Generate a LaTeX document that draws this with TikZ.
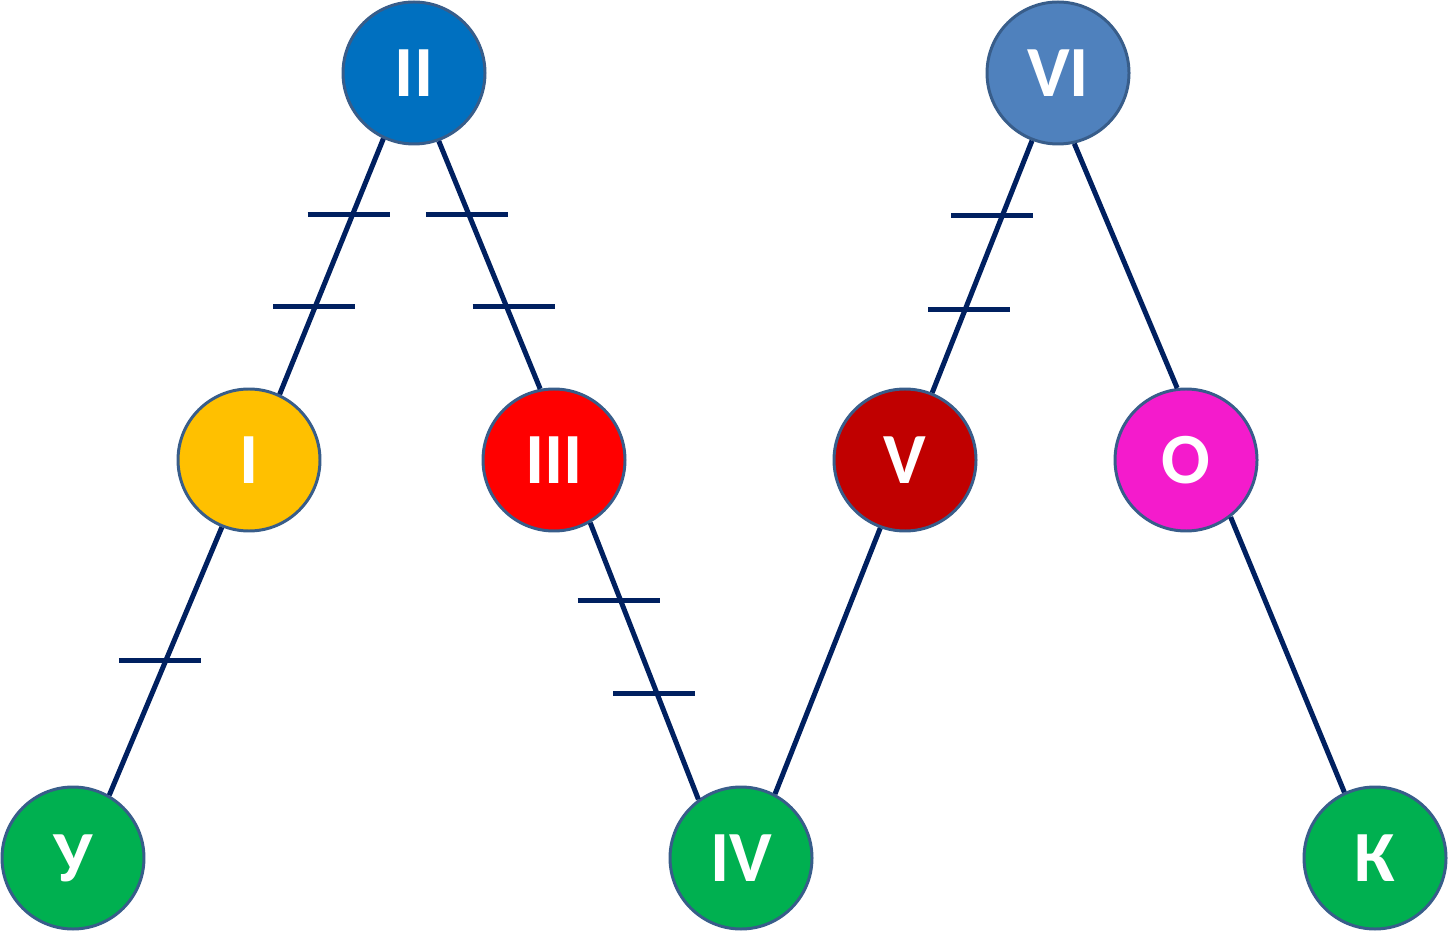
\documentclass[tikz,border=0pt]{standalone}
\usepackage{fontspec}
\setmainfont{Carlito}
\usepackage{xcolor}
\usetikzlibrary{calc}

\definecolor{garis}{HTML}{002060}
\definecolor{tepi}{HTML}{385D8A}
\definecolor{biru}{HTML}{0070C0}
\definecolor{birumuda}{HTML}{4F81BD}
\definecolor{kuning}{HTML}{FFC000}
\definecolor{merah}{HTML}{FF0000}
\definecolor{merahtua}{HTML}{C00000}
\definecolor{magenta}{HTML}{F41BCC}
\definecolor{hijau}{HTML}{00B050}

\begin{document}
\begin{tikzpicture}[
    simpul/.style={circle, draw=tepi, line width=1.7pt, minimum size=2.84cm, inner sep=0pt,
                   text=white, font=\fontsize{41}{41}\selectfont\bfseries},
    sisi/.style={draw=garis, line width=2.85pt},
    tanda/.style={draw=garis, line width=2.85pt}
  ]
    \useasboundingbox (0,0) rectangle (28.96,18.64);
    \node[simpul, fill=biru]     (II)  at (8.28,17.18)  {II};
    \node[simpul, fill=birumuda] (VI)  at (21.16,17.18) {VI};
    \node[simpul, fill=kuning]   (I)   at (4.98,9.44)   {I};
    \node[simpul, fill=merah]    (III) at (11.08,9.44)  {III};
    \node[simpul, fill=merahtua] (V)   at (18.10,9.44)  {V};
    \node[simpul, fill=magenta]  (O)   at (23.72,9.44)  {О};
    \node[simpul, fill=hijau]    (U)   at (1.46,1.48)   {У};
    \node[simpul, fill=hijau]    (IV)  at (14.82,1.48)  {IV};
    \node[simpul, fill=hijau]    (K)   at (27.50,1.48)  {К};
    \draw[sisi] (II.-115) -- (I.65);
    \draw[sisi] (II.-70) -- (III.101);
    \draw[sisi] (I.-112) -- (U.60);
    \draw[sisi] (III.-60) -- (IV.126);
    \draw[sisi] (IV.62) -- (V.-110);
    \draw[sisi] (VI.-111) -- (V.68);
    \draw[sisi] (VI.-77) -- (O.97);
    \draw[sisi] (O.-52) -- (K.115);
    % tanda sama panjang
    \foreach \a/\b/\t/\s in {II.-115/I.65/0.296/-0.08, II.-115/I.65/0.658/-0.02,
                             II.-70/III.101/0.296/-0.04, II.-70/III.101/0.668/0.14,
                             VI.-111/V.68/0.296/-0.2, VI.-111/V.68/0.668/0.08,
                             I.-112/U.60/0.496/-0.12,
                             III.-60/IV.126/0.281/-0.04, III.-60/IV.126/0.619/-0.06}
      \draw[tanda] ($(\a)!\t!(\b)+(\s,0)$) ++(-0.82,0) -- ++(1.64,0);
  \end{tikzpicture}
\end{document}
